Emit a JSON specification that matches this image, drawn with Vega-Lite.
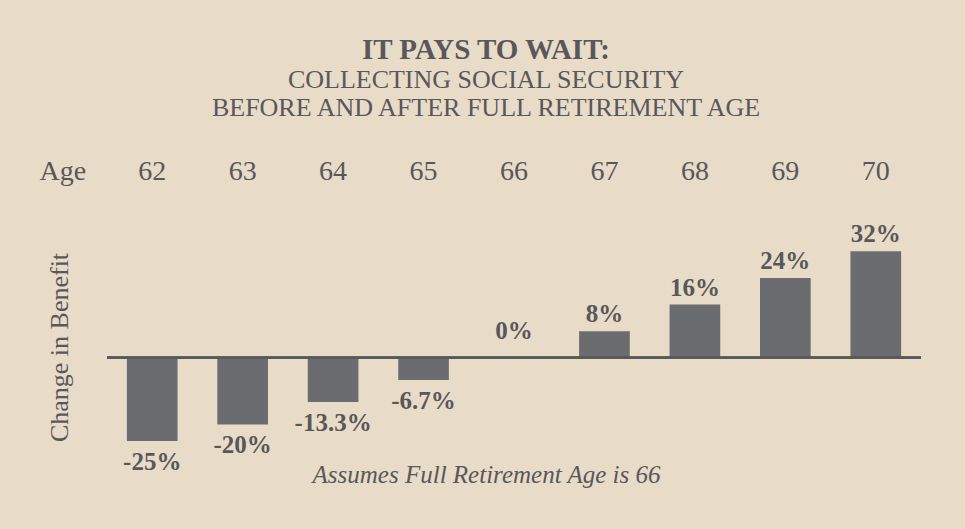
{
  "$schema": "https://vega.github.io/schema/vega-lite/v6.json",
  "autosize": {"type": "none"},
  "padding": {"left": 107, "top": 238, "right": 44, "bottom": 78},
  "width": 814,
  "height": 213,
  "background": "#e8dbc8",
  "config": {
    "view": {"stroke": null},
    "font": "Liberation Serif",
    "text": {"font": "Liberation Serif"}
  },
  "title": {
    "text": "IT PAYS TO WAIT:",
    "subtitle": ["COLLECTING SOCIAL SECURITY", "BEFORE AND AFTER FULL RETIREMENT AGE"],
    "anchor": "middle",
    "frame": "group",
    "dx": -28,
    "offset": 36,
    "font": "Liberation Serif",
    "fontSize": 29,
    "fontWeight": "bold",
    "color": "#58585b",
    "subtitleFont": "Liberation Serif",
    "subtitleFontSize": 26,
    "subtitleColor": "#58585b",
    "subtitleLineHeight": 28,
    "subtitlePadding": 2
  },
  "data": {
    "values": [
      {"age": "62", "change": -25, "label": "-25%"},
      {"age": "63", "change": -20, "label": "-20%"},
      {"age": "64", "change": -13.3, "label": "-13.3%"},
      {"age": "65", "change": -6.7, "label": "-6.7%"},
      {"age": "66", "change": 0, "label": "0%"},
      {"age": "67", "change": 8, "label": "8%"},
      {"age": "68", "change": 16, "label": "16%"},
      {"age": "69", "change": 24, "label": "24%"},
      {"age": "70", "change": 32, "label": "32%"}
    ]
  },
  "resolve": {"axis": {"x": "independent"}},
  "layer": [
    {
      "mark": {"type": "bar", "color": "#6b6c70"},
      "encoding": {
        "x": {
          "field": "age", "type": "ordinal",
          "scale": {"paddingInner": 0.44, "paddingOuter": 0.22},
          "axis": {
            "orient": "top", "domain": false, "ticks": false, "tickSize": 0,
            "labelAngle": 0, "labelFontSize": 28, "labelFont": "Liberation Serif",
            "labelColor": "#58585b", "labelBaseline": "alphabetic", "labelPadding": 59,
            "title": "Age", "titleFont": "Liberation Serif", "titleFontSize": 28,
            "titleFontWeight": "normal", "titleColor": "#58585b",
            "titleAngle": 0, "titleAlign": "left", "titleBaseline": "alphabetic",
            "titleX": -68, "titleY": -59
          }
        },
        "y": {
          "field": "change", "type": "quantitative",
          "title": "Change in Benefit",
          "scale": {"domain": [-28, 36], "nice": false, "zero": true},
          "axis": {
            "domain": false, "ticks": false, "labels": false, "grid": false,
            "title": "Change in Benefit", "titleFont": "Liberation Serif",
            "titleFontSize": 26, "titleFontWeight": "normal", "titleColor": "#58585b",
            "titleAngle": -90, "titleAlign": "center", "titleBaseline": "alphabetic",
            "titleX": -40, "titleY": 109
          }
        }
      }
    },
    {
      "mark": {"type": "rule", "color": "#5a5a5c", "strokeWidth": 2},
      "encoding": {"y": {"datum": 0, "title": "Change in Benefit"}}
    },
    {
      "transform": [{"filter": "datum.change > 0"}],
      "mark": {"type": "text", "baseline": "alphabetic", "dy": -9, "fontSize": 25, "fontWeight": "bold", "color": "#58585b"},
      "encoding": {
        "x": {
          "field": "age", "type": "ordinal",
          "axis": {
            "orient": "bottom", "domain": false, "ticks": false, "labels": false,
            "title": "Assumes Full Retirement Age is 66", "titleFont": "Liberation Serif",
            "titleFontSize": 25, "titleFontStyle": "italic", "titleFontWeight": "normal",
            "titleColor": "#58585b", "titleAlign": "center", "titleBaseline": "alphabetic",
            "titleX": 379, "titleY": 31
          }
        },
        "y": {"field": "change", "type": "quantitative", "title": "Change in Benefit"},
        "text": {"field": "label"}
      }
    },
    {
      "transform": [{"filter": "datum.change == 0"}],
      "mark": {"type": "text", "baseline": "alphabetic", "dy": -19, "fontSize": 25, "fontWeight": "bold", "color": "#58585b"},
      "encoding": {
        "x": {"field": "age", "type": "ordinal", "axis": null},
        "y": {"field": "change", "type": "quantitative", "title": "Change in Benefit"},
        "text": {"field": "label"}
      }
    },
    {
      "transform": [{"filter": "datum.change < 0"}],
      "mark": {"type": "text", "baseline": "alphabetic", "dy": 29, "fontSize": 25, "fontWeight": "bold", "color": "#58585b"},
      "encoding": {
        "x": {"field": "age", "type": "ordinal", "axis": null},
        "y": {"field": "change", "type": "quantitative", "title": "Change in Benefit"},
        "text": {"field": "label"}
      }
    }
  ]
}
